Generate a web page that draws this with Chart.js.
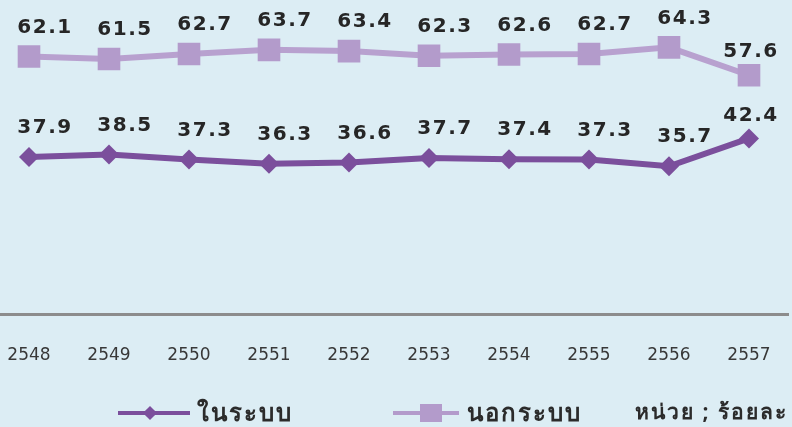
<!DOCTYPE html>
<html>
<head>
<meta charset="utf-8">
<script src="https://cdn.jsdelivr.net/npm/chart.js@4"></script>
<style>
  html, body { margin: 0; padding: 0; width: 792px; height: 427px; overflow: hidden; background: #dcedf4; }
  #wrap { position: absolute; left: -11px; top: 0; width: 800px; height: 397px; }
  .legend { position: absolute; top: 393px; height: 30px; font-family: "Noto Sans", "DejaVu Sans", sans-serif; font-weight: bold; font-size: 24px; letter-spacing: 2px; color: #2b2b2b; white-space: nowrap; }
  .key { position: absolute; top: 18px; height: 4px; }
  .mk { position: absolute; }
</style>
</head>
<body>
<div id="wrap"><canvas id="chart"></canvas></div>

<div class="legend" style="left:118px;">
  <span class="key" style="left:0; width:72px; background:#7b4f9c;"></span>
  <span class="mk" style="left:27px; top:15px; width:10px; height:10px; background:#7b4f9c; transform:rotate(45deg);"></span>
  <span style="position:absolute; left:79px; top:0;">ในระบบ</span>
</div>
<div class="legend" style="left:393px;">
  <span class="key" style="left:0; width:66px; background:#b39bcb;"></span>
  <span class="mk" style="left:27px; top:11px; width:22px; height:18px; background:#b39bcb;"></span>
  <span style="position:absolute; left:74px; top:0;">นอกระบบ</span>
</div>
<div class="legend" style="left:635px; font-size:21px; top:395px;">หน่วย ; ร้อยละ</div>

<script>
// years (B.E.)
const years = ['2548', '2549', '2550', '2551', '2552', '2553', '2554', '2555', '2556', '2557'];
// in the system / out of the system, percent
const inSystem = [37.9, 38.5, 37.3, 36.3, 36.6, 37.7, 37.4, 37.3, 35.7, 42.4];
const outSystem = [62.1, 61.5, 62.7, 63.7, 63.4, 62.3, 62.6, 62.7, 64.3, 57.6];

// writes the value above each point, a bit to the right
const valueLabels = {
  id: 'valueLabels',
  afterDatasetsDraw(chart) {
    const ctx = chart.ctx;
    ctx.save();
    ctx.font = 'bold 20px "DejaVu Sans"';
    ctx.letterSpacing = '1.5px';
    ctx.fillStyle = '#262626';
    ctx.textAlign = 'center';
    ctx.textBaseline = 'middle';
    chart.data.datasets.forEach((ds, di) => {
      const meta = chart.getDatasetMeta(di);
      meta.data.forEach((pt, i) => {
        const last = i === ds.data.length - 1;
        const dx = last ? 2 : 16;
        const dy = last ? 23 : 29;
        ctx.fillText(ds.data[i].toFixed(1), pt.x + dx, pt.y - dy);
      });
    });
    ctx.restore();
  }
};

const ctx = document.getElementById('chart');

new Chart(ctx, {
  type: 'line',
  data: {
    labels: years,
    datasets: [{
      label: 'ในระบบ',
      data: inSystem,
      borderColor: '#7b4f9c',
      backgroundColor: '#7b4f9c',
      borderWidth: 6,
      pointStyle: 'rectRot',
      pointRadius: 10,
      pointBorderWidth: 0,
      tension: 0
    }, {
      label: 'นอกระบบ',
      data: outSystem,
      borderColor: '#b8a1cf',
      backgroundColor: '#b39bcb',
      borderWidth: 6,
      pointStyle: 'rect',
      pointRadius: 16,
      pointBorderWidth: 0,
      tension: 0
    }]
  },
  options: {
    responsive: true,
    maintainAspectRatio: false,
    animation: false,
    layout: { padding: 0, autoPadding: false },
    plugins: {
      legend: { display: false },
      tooltip: { enabled: false }
    },
    scales: {
      x: {
        offset: true,
        grid: { display: false, drawTicks: false },
        border: { display: true, color: '#8c8c8c', width: 3 },
        ticks: {
          padding: 31,
          color: '#383838',
          font: { family: 'DejaVu Sans', size: 17 }
        },
        // the big tick padding would otherwise squeeze the axis sideways
        afterFit(scale) {
          scale.paddingLeft = 0;
          scale.paddingRight = 0;
        }
      },
      y: {
        display: false,
        min: 0,
        max: 75.7
      }
    }
  },
  plugins: [valueLabels]
});
</script>
</body>
</html>
